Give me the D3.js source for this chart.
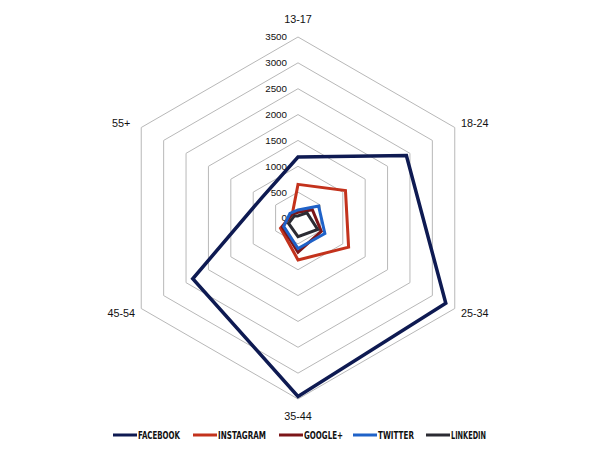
<!DOCTYPE html>
<html>
<head>
<meta charset="utf-8">
<script src="https://cdn.jsdelivr.net/npm/d3@7"></script>
<style>
  html, body { margin: 0; padding: 0; background: #fff; }
  svg { display: block; }
</style>
</head>
<body>
<svg id="chart" width="600" height="461"></svg>
<script>
// ---- data ----
const categories = ["13-17", "18-24", "25-34", "35-44", "45-54", "55+"];
const seriesNames = ["FACEBOOK", "INSTAGRAM", "GOOGLE+", "TWITTER", "LINKEDIN"];
const facebook  = [1180, 2420, 3300, 3450, 2350, 800];
const instagram = [650, 1060, 1130, 810, 390, 130];
const googleplus = [110, 320, 520, 660, 350, 140];
const twitter   = [155, 460, 600, 590, 320, 180];
const linkedin  = [40, 200, 440, 360, 210, 80];
const tickValues = [0, 500, 1000, 1500, 2000, 2500, 3000, 3500];
const seriesColors = ["#0E1A52", "#C3321C", "#7C1518", "#1F62C8", "#2B2B33"];

const seriesValues = [facebook, instagram, googleplus, twitter, linkedin];

// ---- layout ----
const svg = d3.select("#chart");
const cx = 298, cy = 218, R = 181;
const r = d3.scaleLinear().domain([0, 3500]).range([0, R]);
const angle = d3.scalePoint().domain(categories).range([0, 360 - 360 / categories.length]);

function pt(cat, v) {
  const a = angle(cat) * Math.PI / 180;
  return [cx + r(v) * Math.sin(a), cy - r(v) * Math.cos(a)];
}

// grid rings
const ringG = svg.append("g");
tickValues.filter(t => t > 0).forEach(t => {
  ringG.append("polygon")
    .attr("points", categories.map(c => pt(c, t).join(",")).join(" "))
    .attr("fill", "none")
    .attr("stroke", "#B8B8B8")
    .attr("stroke-width", 1);
});

// tick labels
svg.append("g").selectAll("text").data(tickValues).join("text")
  .attr("x", cx - 11)
  .attr("y", d => cy - r(d))
  .attr("dy", "0.35em")
  .attr("text-anchor", "end")
  .attr("font-family", "Liberation Sans, Arial, sans-serif")
  .attr("font-size", 9.8)
  .attr("fill", "#111")
  .text(d => d);

// category labels
function labelPos(c) {
  const a = angle(c) * Math.PI / 180;
  const s = Math.sin(a), co = Math.cos(a);
  if (Math.abs(s) < 0.1) {
    return [cx, cy - co * (R + 17.5)];
  }
  const vx = cx + R * s, vy = cy - R * co;
  return [vx + Math.sign(s) * 20, vy - co * 9.5];
}
svg.append("g").selectAll("text").data(categories).join("text")
  .attr("x", c => labelPos(c)[0])
  .attr("y", c => labelPos(c)[1])
  .attr("dy", "0.35em")
  .attr("text-anchor", "middle")
  .attr("font-family", "Liberation Sans, Arial, sans-serif")
  .attr("font-size", 10.8)
  .attr("fill", "#111")
  .text(c => c);

// series polygons
const line = d3.line().curve(d3.curveLinearClosed);
seriesValues.forEach((vals, i) => {
  svg.append("path")
    .attr("d", line(categories.map((c, j) => pt(c, vals[j]))))
    .attr("fill", "none")
    .attr("stroke", seriesColors[i])
    .attr("stroke-width", i === 0 ? 3.5 : 3)
    .attr("stroke-linejoin", "miter");
});

// legend
const legend = svg.append("g");
const legendTextWidths = [42, 48, 39, 36, 35];
const legendGaps = [13, 13, 10, 12, 0];
let lx = 113;
const ly = 435;
seriesNames.forEach((name, i) => {
  legend.append("line")
    .attr("x1", lx).attr("x2", lx + 24)
    .attr("y1", ly).attr("y2", ly)
    .attr("stroke", seriesColors[i])
    .attr("stroke-width", 3);
  legend.append("text")
    .attr("x", lx + 25)
    .attr("y", ly)
    .attr("dy", "0.36em")
    .attr("font-family", "DejaVu Sans Condensed, DejaVu Sans, sans-serif")
    .attr("font-weight", "bold")
    .attr("font-size", 10)
    .attr("textLength", legendTextWidths[i])
    .attr("lengthAdjust", "spacingAndGlyphs")
    .attr("fill", "#111")
    .text(name);
  lx += 25 + legendTextWidths[i] + legendGaps[i];
});
</script>
</body>
</html>
